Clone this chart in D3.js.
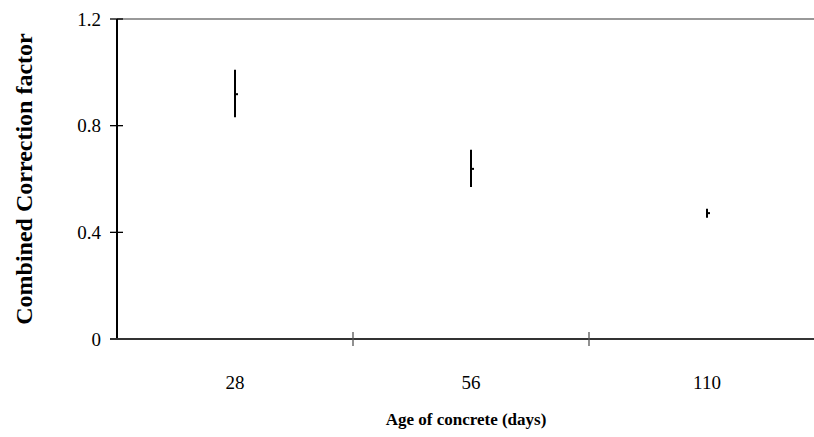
<!DOCTYPE html>
<html><head><meta charset="utf-8">
<script src="https://cdn.jsdelivr.net/npm/d3@7"></script>
<style>body{margin:0;background:#fff}text{font-family:"Liberation Serif","Times New Roman",serif}</style>
</head><body><svg id="c" width="814" height="437"></svg>
<script>
const categories = ["28", "56", "110"];
const highValues = [1.01, 0.71, 0.488];
const lowValues = [0.832, 0.570, 0.455];
const meanValues = [0.918, 0.638, 0.472];
const yTicks = [0, 0.4, 0.8, 1.2];

const svg = d3.select("#c");
const L = 117, R = 825, T = 19, B = 339;
const x = d3.scaleBand().domain(categories).range([L, R]);
const y = d3.scaleLinear().domain([0, 1.2]).range([B, T]);

// top border line (gray)
svg.append("line").attr("x1", L).attr("x2", 814).attr("y1", y(1.2)).attr("y2", y(1.2))
  .attr("stroke", "#999").attr("stroke-width", 2);

// y axis
svg.append("line").attr("x1", L).attr("x2", L).attr("y1", T).attr("y2", B).attr("stroke", "#000").attr("stroke-width", 2);
yTicks.forEach(t => {
  svg.append("line").attr("x1", L - 7).attr("x2", L + 6).attr("y1", y(t)).attr("y2", y(t)).attr("stroke", "#000").attr("stroke-width", 1.3);
  svg.append("text").attr("x", 101).attr("y", y(t)).attr("dy", "0.35em").attr("text-anchor", "end")
    .attr("font-size", 19).text(t === 0 ? "0" : t.toFixed(1));
});

// x axis
svg.append("line").attr("x1", L - 7).attr("x2", 814).attr("y1", B).attr("y2", B).attr("stroke", "#333").attr("stroke-width", 2);
categories.forEach((c, i) => {
  if (i > 0) svg.append("line").attr("x1", x(c)).attr("x2", x(c)).attr("y1", B - 7).attr("y2", B + 7).attr("stroke", "#555").attr("stroke-width", 1.3);
  svg.append("text").attr("x", x(c) + x.bandwidth() / 2).attr("y", 389).attr("text-anchor", "middle")
    .attr("font-size", 19).text(c);
});

// high-low-close marks
categories.forEach((c, i) => {
  const cx = Math.round(x(c) + x.bandwidth() / 2);
  svg.append("line").attr("x1", cx).attr("x2", cx).attr("y1", y(highValues[i])).attr("y2", y(lowValues[i]))
    .attr("stroke", "#000").attr("stroke-width", 2);
  svg.append("line").attr("x1", cx).attr("x2", cx + 3).attr("y1", y(meanValues[i])).attr("y2", y(meanValues[i]))
    .attr("stroke", "#000").attr("stroke-width", 2);
});

// titles
svg.append("text").attr("x", 466).attr("y", 425).attr("text-anchor", "middle")
  .attr("font-size", 17).attr("font-weight", "bold").text("Age of concrete (days)");
svg.append("text").attr("transform", "translate(32,179) rotate(-90)").attr("text-anchor", "middle")
  .attr("font-size", 24).attr("font-weight", "bold").text("Combined Correction factor");
</script></body></html>
